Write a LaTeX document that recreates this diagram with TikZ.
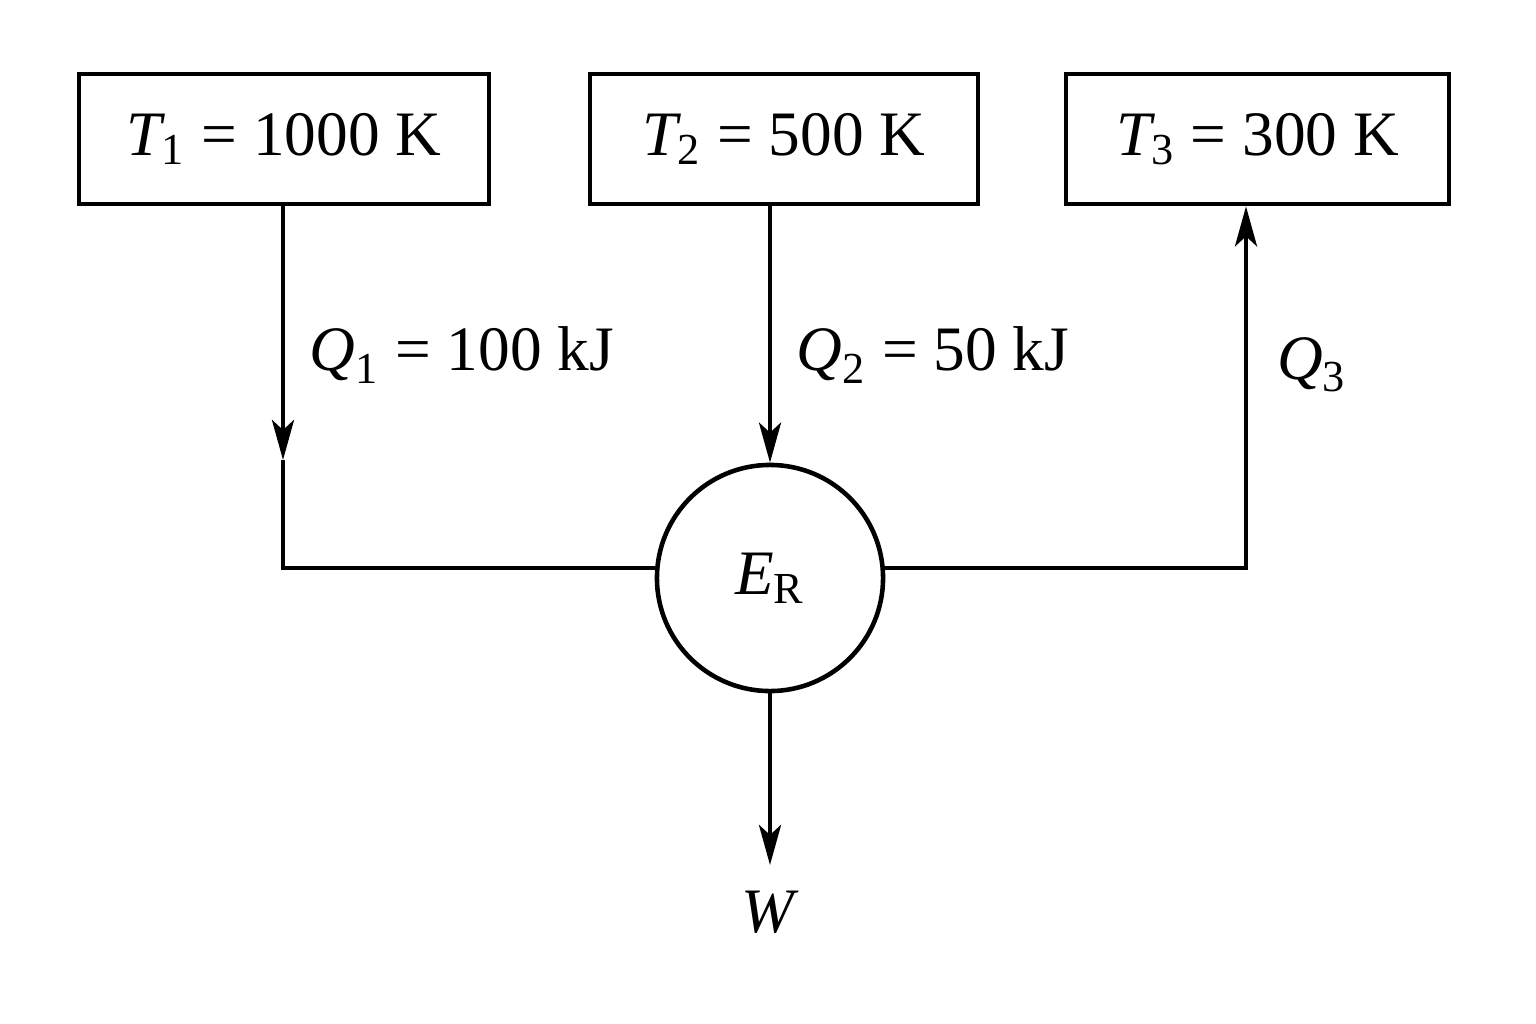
\documentclass[tikz,border=0pt]{standalone}
\usepackage{amsmath}
\usepackage{fontspec}
\setmainfont{Liberation Serif}
\usetikzlibrary{arrows.meta}
\newcommand{\vsub}[2]{$\textit{#1}_{\textrm{#2}}$}
\begin{document}
\begin{tikzpicture}[x=0.01cm,y=-0.01cm,line width=1.3pt,
  box/.style={draw,minimum height=1.3cm,inner sep=0pt,font=\fontsize{18}{22}\selectfont},
  lab/.style={font=\fontsize{18}{22}\selectfont},
  arr/.style={-{Stealth[length=0.4cm,width=0.22cm,inset=0.1cm]}}]
\useasboundingbox (0,0) rectangle (1536,1024);
\node[box,minimum width=4.1cm] (t1) at (284,139) {\vsub{T}{1} = 1000 K};
\node[box,minimum width=3.88cm] (t2) at (784,139) {\vsub{T}{2} = 500 K};
\node[box,minimum width=3.83cm] (t3) at (1257.5,139) {\vsub{T}{3} = 300 K};
\node[draw,circle,minimum size=2.26cm,inner sep=0pt,lab] (e) at (770,578) {\vsub{E}{R}};
\coordinate (a1) at (283,460);
\coordinate (c1) at (283,568);
\coordinate (c3) at (1246,568);
\coordinate (w0) at (770,865);
\node[lab] (w) at (770,912) {\textit{W}};
\draw[arr] (t1.south -| a1) -- (a1);
\draw (a1) -- (c1) -- (c1 -| e.west);
\draw[arr] (t2.south -| e.north) -- (e.north);
\draw[arr] (c1 -| e.east) -- (c3) -- (t3.south -| c3);
\draw[arr] (e.south) -- (w0);
\node[lab] (q1) at (462,355) {\vsub{Q}{1} = 100 kJ};
\node[lab] (q2) at (933,355) {\vsub{Q}{2} = 50 kJ};
\node[lab] (q3) at (1312,365) {\vsub{Q}{3}};
\end{tikzpicture}
\end{document}
